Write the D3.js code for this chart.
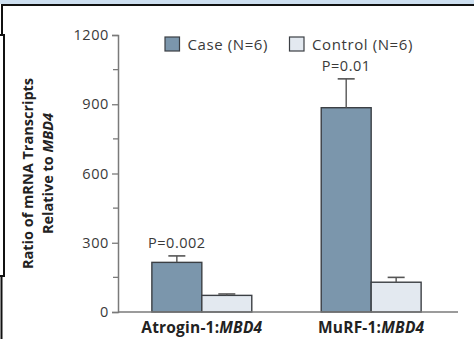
<!DOCTYPE html>
<html>
<head>
<meta charset="utf-8">
<script src="https://cdn.jsdelivr.net/npm/d3@7"></script>
<style>
  html, body { margin: 0; padding: 0; background: #fff; }
  svg { display: block; font-family: "Open Sans", sans-serif; }
</style>
</head>
<body>
<svg id="chart" width="474" height="339"></svg>
<script>
// Gene ratios (mean and upper error bound) for each group
const genes = ["Atrogin-1", "MuRF-1"];
const seriesNames = ["Case (N=6)", "Control (N=6)"];
const caseMeans = [215, 885];
const caseUpper = [243, 1010];
const controlMeans = [72, 129];
const controlUpper = [78, 150];
const pValues = ["P=0.002", "P=0.01"];
const yTicks = [0, 300, 600, 900, 1200];
const yMinorTicks = [150, 450, 750, 1050];

const colors = ["#7b96ac", "#e3e9f0"];
const svg = d3.select("#chart");

// Frame around the figure panel
svg.append("rect").attr("x", 0).attr("y", 0).attr("width", 474).attr("height", 4).attr("fill", "#cddff0");
const frame = svg.append("g").attr("stroke", "#111").attr("stroke-width", 2).attr("fill", "none");
frame.append("line").attr("x1", 1).attr("x2", 474).attr("y1", 5).attr("y2", 5);
frame.append("line").attr("x1", 2).attr("x2", 2).attr("y1", 4).attr("y2", 35);
frame.append("line").attr("x1", 0).attr("x2", 5).attr("y1", 35).attr("y2", 35);
frame.append("line").attr("x1", 4).attr("x2", 4).attr("y1", 35).attr("y2", 276);
frame.append("line").attr("x1", 0).attr("x2", 5).attr("y1", 276).attr("y2", 276);
frame.append("line").attr("x1", 1.5).attr("x2", 1.5).attr("y1", 276).attr("y2", 339);

const y = d3.scaleLinear().domain([0, 1200]).range([312, 35]);
const x0 = d3.scaleBand().domain(genes).range([118, 455]).paddingInner(0.41).paddingOuter(0.2);
const x1 = d3.scaleBand().domain(seriesNames).range([0, x0.bandwidth()]);

const rows = genes.map((g, i) => ({
  gene: g,
  p: pValues[i],
  bars: [
    { s: seriesNames[0], v: caseMeans[i], hi: caseUpper[i] },
    { s: seriesNames[1], v: controlMeans[i], hi: controlUpper[i] }
  ]
}));

// Y axis with major and minor ticks
const yAxis = svg.append("g").attr("transform", "translate(118,0)")
  .call(d3.axisLeft(y).tickValues(yTicks).tickSize(6).tickPadding(3).tickFormat(d3.format("d")));
yAxis.select(".domain").attr("stroke", "#7a7a7a").attr("stroke-width", 1.5);
yAxis.selectAll(".tick line").attr("stroke", "#7a7a7a").attr("stroke-width", 1.3);
yAxis.selectAll(".tick text").attr("fill", "#3a3a3a")
  .style("font-size", "14.5px").style("letter-spacing", "0.6px")
  .style("font-family", "'Open Sans', sans-serif");
svg.append("g").selectAll("line").data(yMinorTicks).join("line")
  .attr("x1", 113).attr("x2", 118).attr("y1", d => y(d)).attr("y2", d => y(d))
  .attr("stroke", "#7a7a7a").attr("stroke-width", 1.3);

// Bars
const groups = svg.append("g").selectAll("g").data(rows).join("g")
  .attr("transform", d => `translate(${x0(d.gene)},0)`);
groups.selectAll("rect").data(d => d.bars).join("rect")
  .attr("x", d => x1(d.s))
  .attr("y", d => y(d.v))
  .attr("width", x1.bandwidth())
  .attr("height", d => y(0) - y(d.v))
  .attr("fill", (d, i) => colors[i])
  .attr("stroke", "#3b3f44")
  .attr("stroke-width", 1.4);

// Error bars
groups.selectAll("g.err").data(d => d.bars).join("g").attr("class", "err")
  .each(function(d) {
    const cx = x1(d.s) + x1.bandwidth() / 2;
    const g = d3.select(this);
    g.append("line").attr("x1", cx).attr("x2", cx).attr("y1", y(d.v)).attr("y2", y(d.hi))
      .attr("stroke", "#555").attr("stroke-width", 1.4);
    g.append("line").attr("x1", cx - 8.5).attr("x2", cx + 8.5).attr("y1", y(d.hi)).attr("y2", y(d.hi))
      .attr("stroke", "#555").attr("stroke-width", 1.6);
  });

// P values above the case bars
groups.append("text")
  .attr("x", x1(seriesNames[0]) + x1.bandwidth() / 2)
  .attr("y", d => y(d.bars[0].hi) - 8)
  .attr("text-anchor", "middle")
  .attr("fill", "#3a3a3a")
  .style("font-size", "14.5px")
  .style("letter-spacing", "0.5px")
  .text(d => d.p);

// X axis baseline
svg.append("line").attr("x1", 118).attr("x2", 458).attr("y1", y(0)).attr("y2", y(0))
  .attr("stroke", "#7a7a7a").attr("stroke-width", 1.5);

// Category labels
const xl = svg.append("g").selectAll("text").data(genes).join("text")
  .attr("x", d => x0(d) + x0.bandwidth() / 2)
  .attr("y", 333)
  .attr("text-anchor", "middle")
  .attr("fill", "#222")
  .style("font-size", "15.5px")
  .style("font-weight", "700")
  .style("letter-spacing", "0.2px");
xl.append("tspan").text(d => d + ":");
xl.append("tspan").style("font-style", "italic").text("MBD4");

// Y axis title
const yt = svg.append("text")
  .attr("transform", "translate(33,173.5) rotate(-90)")
  .attr("text-anchor", "middle")
  .attr("fill", "#222")
  .style("font-size", "14.5px")
  .style("font-weight", "700");
yt.append("tspan").attr("x", 0).attr("dy", 0).text("Ratio of mRNA Transcripts");
const yt2 = yt.append("tspan").attr("x", 0).attr("dy", 19.5);
yt2.append("tspan").text("Relative to ");
yt2.append("tspan").style("font-style", "italic").text("MBD4");

// Legend
const legendX = [165, 289.5];
const legend = svg.append("g").selectAll("g").data(seriesNames).join("g")
  .attr("transform", (d, i) => `translate(${legendX[i]},37)`);
legend.append("rect").attr("width", 14.5).attr("height", 14)
  .attr("fill", (d, i) => colors[i]).attr("stroke", "#3b3f44").attr("stroke-width", 1.2);
legend.append("text").attr("x", 22.5).attr("y", 12.5)
  .attr("fill", "#3a3a3a")
  .style("font-size", "15px")
  .style("letter-spacing", "0.6px")
  .text(d => d);
</script>
</body>
</html>
